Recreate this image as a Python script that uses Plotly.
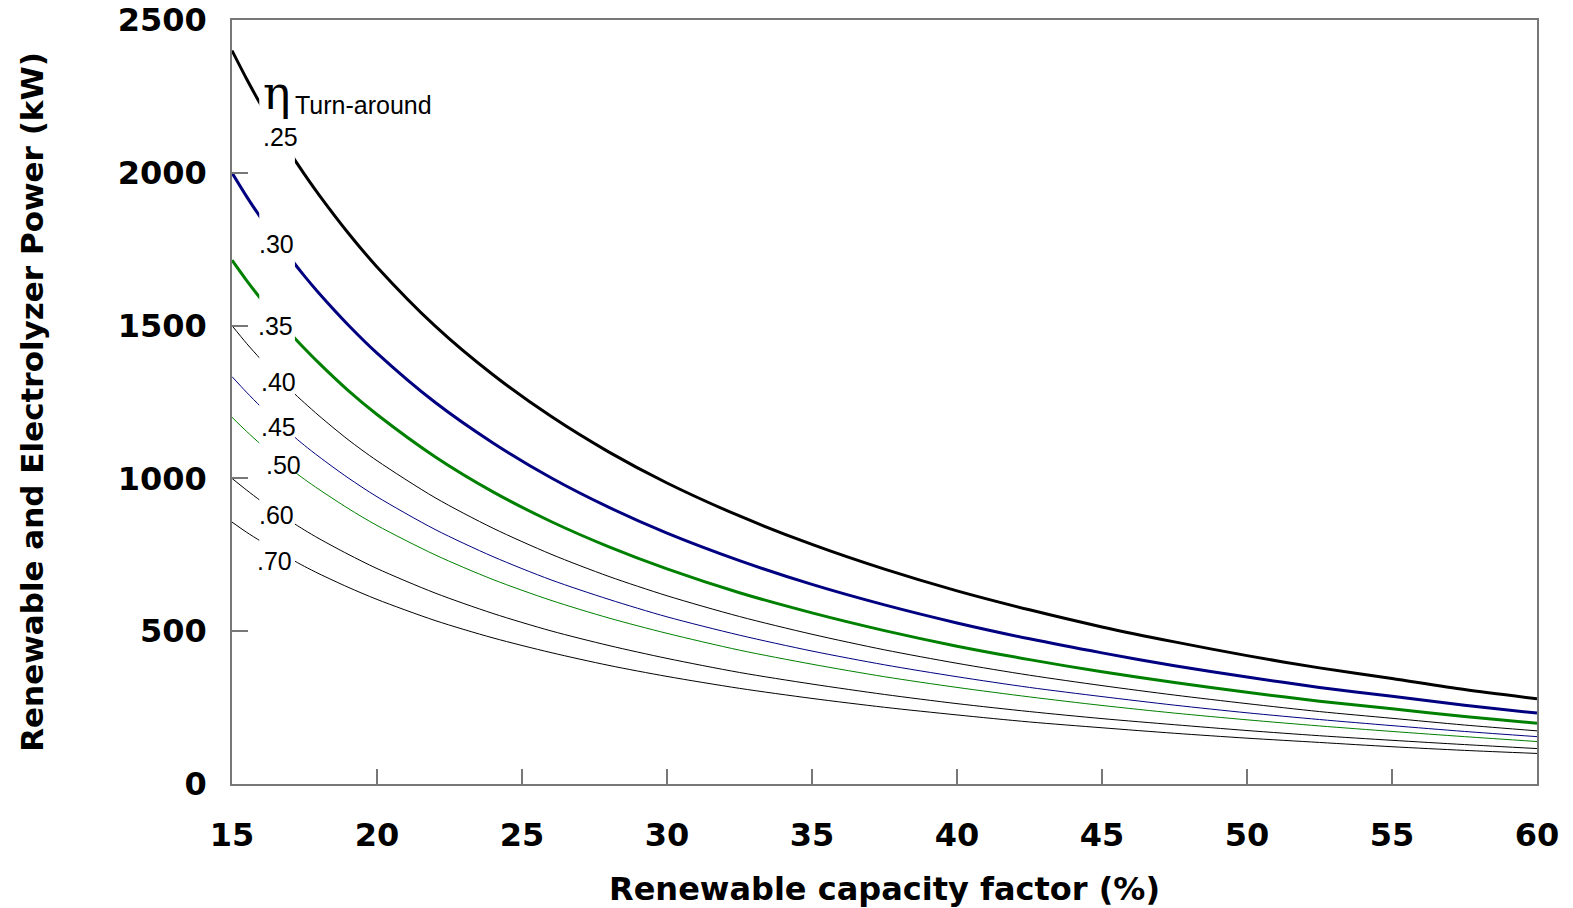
import plotly.graph_objects as go

# Renewable capacity factor (%)
capacity_factor = [15, 15.5, 16, 17, 17.5, 18, 19, 20, 22, 24, 26, 28, 30, 32.5, 35, 37.5,
                   40, 42.5, 45, 47.5, 50, 52.5, 55, 57.5, 60]

# Renewable and electrolyzer power (kW) for each turn-around efficiency
p_025 = [2400, 2308, 2222, 2066, 1995, 1928, 1804, 1692, 1499, 1339, 1203, 1086, 985, 877, 784, 703,
         632, 570, 514, 465, 420, 380, 345, 309, 279]
p_030 = [2000, 1923, 1852, 1722, 1662, 1606, 1503, 1410, 1249, 1116, 1002, 905, 821, 731, 653, 586,
         527, 475, 429, 387, 350, 316, 287, 258, 232]
p_035 = [1714, 1648, 1587, 1476, 1425, 1377, 1288, 1209, 1071, 956, 859, 776, 704, 626, 560, 502,
         451, 407, 367, 332, 300, 271, 246, 221, 199]
p_040 = [1500, 1442, 1389, 1291, 1247, 1205, 1127, 1058, 937, 837, 752, 679, 616, 548, 490, 439,
         395, 356, 322, 291, 263, 237, 215, 193, 174]
p_045 = [1333, 1282, 1234, 1148, 1108, 1071, 1002, 940, 833, 744, 668, 604, 547, 487, 435, 390,
         351, 316, 286, 258, 233, 211, 191, 172, 155]
p_050 = [1200, 1154, 1111, 1033, 997, 964, 902, 846, 750, 669, 601, 543, 493, 438, 392, 351,
         316, 285, 257, 232, 210, 190, 172, 155, 139]
p_060 = [1000, 962, 926, 861, 831, 803, 752, 705, 625, 558, 501, 453, 411, 365, 327, 293,
         263, 237, 214, 194, 175, 158, 143, 129, 116]
p_070 = [857, 824, 794, 738, 712, 688, 644, 604, 535, 478, 430, 388, 352, 313, 280, 251,
         226, 203, 184, 166, 150, 136, 122, 110, 100]

series_labels = [".25", ".30", ".35", ".40", ".45", ".50", ".60", ".70"]
series_values = [p_025, p_030, p_035, p_040, p_045, p_050, p_060, p_070]
series_colors = ["#000000", "#000080", "#008000", "#000000", "#000080", "#008000", "#000000", "#000000"]
series_widths = [3, 3, 3, 1, 1, 1, 1, 1]

# label anchor positions (x in %, y in kW)
label_x = [16.66, 16.53, 16.50, 16.60, 16.62, 16.76, 16.55, 16.48]
label_y = [2117, 1767, 1500, 1315, 1168, 1044, 880, 731]

fig = go.Figure()
for name, vals, col, w in zip(series_labels, series_values, series_colors, series_widths):
    fig.add_trace(go.Scatter(x=capacity_factor, y=vals, mode="lines", name=name,
                             line=dict(color=col, width=w, shape="spline", smoothing=0.8),
                             showlegend=False, hoverinfo="x+y+name"))

# white band that opens the gap in every curve where the labels sit
fig.add_shape(type="rect", xref="x", yref="y", x0=15.94, x1=17.17, y0=600, y1=2350,
              fillcolor="white", line=dict(width=0), layer="above")

label_font = dict(family="Liberation Sans, Arial, sans-serif", size=25, color="black")
for t, lx, ly in zip(series_labels, label_x, label_y):
    fig.add_annotation(x=lx, y=ly, xref="x", yref="y", text=t, showarrow=False,
                       font=label_font, xanchor="center", yanchor="middle")

fig.add_annotation(x=16.55, y=2262, xref="x", yref="y", text="η", showarrow=False,
                   font=dict(family="DejaVu Serif, serif", size=46, color="black"),
                   xanchor="center", yanchor="middle")
fig.add_annotation(x=17.10, y=2222, xref="x", yref="y", text="Turn-around", showarrow=False,
                   font=label_font, xanchor="left", yanchor="middle")

axis_font = dict(family="DejaVu Sans, sans-serif", size=32, color="black", weight="bold")
fig.update_xaxes(range=[15, 60], tickvals=[15, 20, 25, 30, 35, 40, 45, 50, 55, 60],
                 ticks="inside", ticklen=15, tickwidth=1.5, tickcolor="#777777",
                 showline=True, linecolor="#777777", linewidth=1.5, mirror=True,
                 showgrid=False, zeroline=False, tickfont=axis_font, ticklabelstandoff=22,
                 automargin=False, ticklabeloverflow="allow",
                 title=dict(text="<b>Renewable capacity factor (%)</b>",
                            font=dict(family="DejaVu Sans, sans-serif", size=32, color="black"),
                            standoff=32))
fig.update_yaxes(range=[0, 2500], tickvals=[0, 500, 1000, 1500, 2000, 2500],
                 ticks="inside", ticklen=16, tickwidth=1.5, tickcolor="#777777",
                 showline=True, linecolor="#777777", linewidth=1.5, mirror=True,
                 showgrid=False, zeroline=False, tickfont=axis_font, ticklabelstandoff=17,
                 automargin=False, ticklabeloverflow="allow",
                 title=dict(text="<b>Renewable and Electrolyzer Power (kW)</b>",
                            font=dict(family="DejaVu Sans, sans-serif", size=31, color="black"),
                            standoff=65))

fig.update_layout(width=1573, height=908, margin=dict(l=232, r=36, t=20, b=124),
                  plot_bgcolor="white", paper_bgcolor="white")

fig.write_html("out.html", config={"displayModeBar": False},
               post_script="document.body.style.margin='0';document.body.style.overflow='hidden';")
